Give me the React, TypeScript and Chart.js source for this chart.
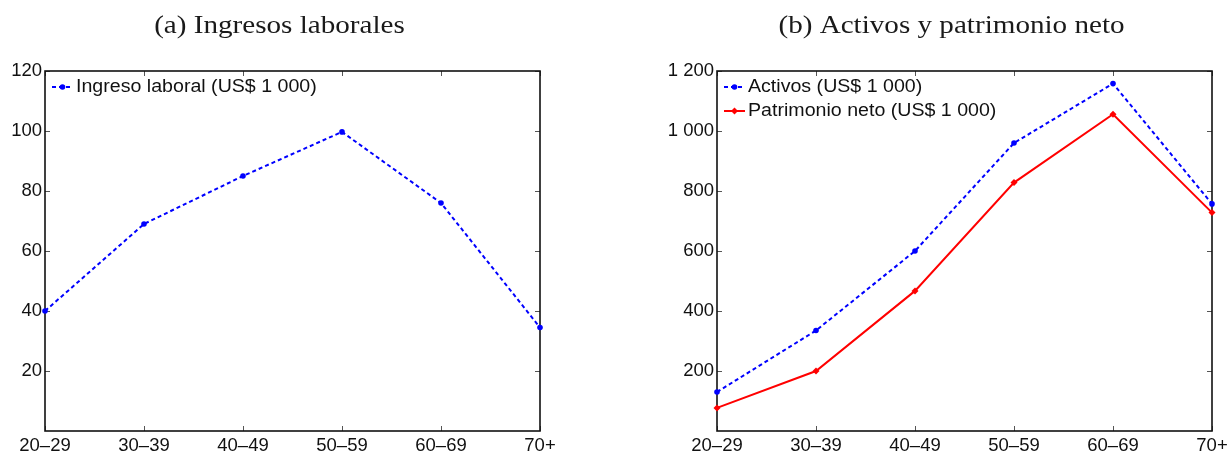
import React, { useEffect, useRef } from "react";
import { Chart, registerables } from "chart.js";

Chart.register(...registerables);

const ageGroups = ["20–29", "30–39", "40–49", "50–59", "60–69", "70+"];
const laborIncome = [40, 69, 85, 99.7, 76, 34.5];
const assets = [130, 335, 600, 960, 1158, 757];
const netWorth = [77, 200, 467, 828, 1056, 728];

const incomeTicks = [20, 40, 60, 80, 100, 120];
const incomeTickLabels = ["20", "40", "60", "80", "100", "120"];
const wealthTicks = [200, 400, 600, 800, 1000, 1200];
const wealthTickLabels = ["200", "400", "600", "800", "1 000", "1 200"];

const titleA = "(a) Ingresos laborales";
const titleB = "(b) Activos y patrimonio neto";
const incomeLabel = "Ingreso laboral (US$ 1 000)";
const assetsLabel = "Activos (US$ 1 000)";
const netWorthLabel = "Patrimonio neto (US$ 1 000)";

const SANS = "'Liberation Sans', Arial, sans-serif";
const SERIF = "'Liberation Serif', 'Times New Roman', serif";
const STRETCH = 1.12;

const framePlugin = {
  id: "frame",
  beforeDatasetsDraw(chart: any) {
    const { ctx, chartArea: a, scales } = chart;
    const xs = scales.x;
    const ys = scales.y;
    const L = 5;
    ctx.save();
    ctx.strokeStyle = "#555";
    ctx.lineWidth = 1;
    xs.ticks.forEach((_: any, i: number) => {
      const px = Math.round(xs.getPixelForTick(i)) + 0.5;
      ctx.beginPath();
      ctx.moveTo(px, a.bottom);
      ctx.lineTo(px, a.bottom - L);
      ctx.moveTo(px, a.top);
      ctx.lineTo(px, a.top + L);
      ctx.stroke();
    });
    ys.ticks.forEach((_: any, i: number) => {
      const py = Math.round(ys.getPixelForTick(i)) + 0.5;
      ctx.beginPath();
      ctx.moveTo(a.left, py);
      ctx.lineTo(a.left + L, py);
      ctx.moveTo(a.right, py);
      ctx.lineTo(a.right - L, py);
      ctx.stroke();
    });
    ctx.strokeStyle = "#111";
    ctx.lineWidth = 1.6;
    ctx.strokeRect(a.left, a.top, a.right - a.left, a.bottom - a.top);
    ctx.restore();
  },
};

function drawMarker(ctx: CanvasRenderingContext2D, style: string, x: number, y: number, r: number, color: string) {
  ctx.save();
  ctx.fillStyle = color;
  ctx.strokeStyle = color;
  ctx.beginPath();
  if (style === "rectRot") {
    ctx.moveTo(x, y - r);
    ctx.lineTo(x + r, y);
    ctx.lineTo(x, y + r);
    ctx.lineTo(x - r, y);
    ctx.closePath();
  } else {
    ctx.arc(x, y, r, 0, Math.PI * 2);
  }
  ctx.fill();
  ctx.restore();
}

const legendPlugin = {
  id: "innerLegend",
  afterDatasetsDraw(chart: any) {
    const { ctx, chartArea: a } = chart;
    chart.data.datasets.forEach((ds: any, i: number) => {
      const y0 = a.top + 16 + i * 24;
      const x0 = a.left + 7;
      ctx.save();
      ctx.strokeStyle = ds.borderColor;
      ctx.lineWidth = ds.borderWidth;
      ctx.setLineDash(ds.borderDash || []);
      ctx.beginPath();
      ctx.moveTo(x0, y0);
      ctx.lineTo(x0 + 21, y0);
      ctx.stroke();
      ctx.setLineDash([]);
      drawMarker(ctx, ds.pointStyle, x0 + 10.5, y0, ds.pointRadius, ds.borderColor);
      ctx.translate(x0 + 24, y0);
      ctx.scale(STRETCH, 1);
      ctx.font = `17.5px ${SANS}`;
      ctx.fillStyle = "#111";
      ctx.textAlign = "left";
      ctx.textBaseline = "middle";
      ctx.fillText(ds.label, 0, 0);
      ctx.restore();
    });
  },
};

const titlePlugin = {
  id: "panelTitle",
  afterDraw(chart: any, _args: any, opts: any) {
    const { ctx, chartArea: a } = chart;
    ctx.save();
    ctx.translate((a.left + a.right) / 2 - 13, 26);
    ctx.scale(STRETCH, 1);
    ctx.font = `26px ${SERIF}`;
    ctx.fillStyle = "#1a1a1a";
    ctx.textAlign = "center";
    ctx.textBaseline = "middle";
    ctx.fillText(opts.text, 0, 0);
    ctx.restore();
  },
};

function makeConfig(opts: {
  title: string;
  datasets: any[];
  max: number;
  ticks: number[];
  tickLabels: string[];
  yWidth: number;
  padRight: number;
}) {
  return {
    type: "line",
    data: { labels: ageGroups, datasets: opts.datasets },
    plugins: [framePlugin, legendPlugin, titlePlugin],
    options: {
      responsive: false,
      animation: false,
      devicePixelRatio: 1,
      layout: { padding: { top: 71, right: opts.padRight, left: 0, bottom: 0 } },
      plugins: {
        legend: { display: false },
        tooltip: { enabled: false },
        title: { display: false },
        panelTitle: { text: opts.title },
      },
      scales: {
        x: {
          type: "category",
          offset: false,
          grid: { display: false, drawTicks: false },
          border: { display: false },
          ticks: {
            font: { family: SANS, size: 18.5 },
            color: "#111",
            padding: 4,
            maxRotation: 0,
            autoSkip: false,
          },
          afterFit: (s: any) => {
            s.height = 25;
          },
        },
        y: {
          type: "linear",
          min: 0,
          max: opts.max,
          grid: { display: false, drawTicks: false },
          border: { display: false },
          afterBuildTicks: (s: any) => {
            s.ticks = opts.ticks.map((v) => ({ value: v }));
          },
          ticks: {
            font: { family: SANS, size: 18.5 },
            color: "#111",
            padding: 3,
            callback: (v: any) => {
              const idx = opts.ticks.indexOf(Number(v));
              return idx >= 0 ? opts.tickLabels[idx] : "";
            },
          },
          afterFit: (s: any) => {
            s.width = opts.yWidth;
          },
        },
      },
    },
  };
}

export default function App() {
  const refA = useRef<HTMLCanvasElement>(null);
  const refB = useRef<HTMLCanvasElement>(null);

  useEffect(() => {
    const chartA = new Chart(
      refA.current as HTMLCanvasElement,
      makeConfig({
        title: titleA,
        max: 120,
        ticks: incomeTicks,
        tickLabels: incomeTickLabels,
        yWidth: 45,
        padRight: 60,
        datasets: [
          {
            label: incomeLabel,
            data: laborIncome,
            borderColor: "#0000ff",
            backgroundColor: "#0000ff",
            borderWidth: 2,
            borderDash: [4, 3],
            pointStyle: "circle",
            pointRadius: 2.8,
            pointBorderWidth: 0,
            tension: 0,
            clip: false,
          },
        ],
      }) as any
    );
    const chartB = new Chart(
      refB.current as HTMLCanvasElement,
      makeConfig({
        title: titleB,
        max: 1200,
        ticks: wealthTicks,
        tickLabels: wealthTickLabels,
        yWidth: 101,
        padRight: 20,
        datasets: [
          {
            label: assetsLabel,
            data: assets,
            borderColor: "#0000ff",
            backgroundColor: "#0000ff",
            borderWidth: 2,
            borderDash: [4, 3],
            pointStyle: "circle",
            pointRadius: 2.8,
            pointBorderWidth: 0,
            tension: 0,
            clip: false,
          },
          {
            label: netWorthLabel,
            data: netWorth,
            borderColor: "#ff0000",
            backgroundColor: "#ff0000",
            borderWidth: 2,
            pointStyle: "rectRot",
            pointRadius: 3.5,
            pointBorderWidth: 0,
            tension: 0,
            clip: false,
          },
        ],
      }) as any
    );
    return () => {
      chartA.destroy();
      chartB.destroy();
    };
  }, []);

  return (
    <div
      style={{
        position: "fixed",
        left: 0,
        top: 0,
        width: 1232,
        height: 456,
        background: "#fff",
      }}
    >
      <canvas
        ref={refA}
        width={600}
        height={456}
        style={{ position: "absolute", left: 0, top: 0, width: 600, height: 456 }}
      />
      <canvas
        ref={refB}
        width={616}
        height={456}
        style={{ position: "absolute", left: 616, top: 0, width: 616, height: 456 }}
      />
    </div>
  );
}
